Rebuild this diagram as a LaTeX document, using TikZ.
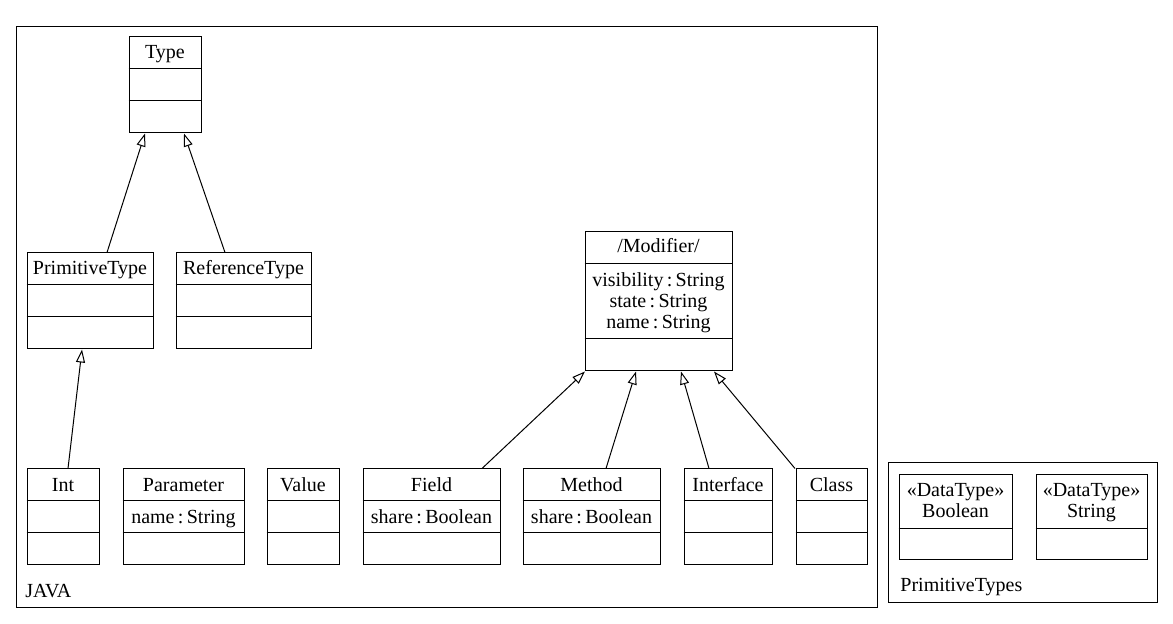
\documentclass[tikz,border=0pt]{standalone}
\usepackage{fontspec}
\setmainfont{Liberation Serif}
\usetikzlibrary{fit,arrows.meta}

\tikzset{
    box/.style={draw, line width=0.5pt, inner sep=0pt},
    inherit/.style={line width=0.5pt, -{Triangle[open,length=6.5pt,width=4.5pt]}},
    lbl/.style={inner sep=0pt, anchor=base, font=\fontsize{10}{10.5}\selectfont}
}

\begin{document}
\begin{tikzpicture}[x=0.5pt,y=-0.5pt]
    \useasboundingbox (0,0) rectangle (1173,624);
    %\draw[very thin,color=gray] (0,0) grid[step=50] (1173,624);

    % packages
    \node[box, fit={(16,27) (877,608)}] (java) {};
    \node[lbl, anchor=base west] (javaname) at (25,598) {JAVA};
    \node[box, fit={(888,463) (1157,603)}] (primtypes) {};
    \node[lbl, anchor=base west] (primtypesname) at (900,592) {PrimitiveTypes};

    % upper classes
    \foreach \n/\l/\t/\r/\b/\s in {type/129/37/201/133/Type, prim/27/253/153/349/PrimitiveType, ref/176/253/311/349/ReferenceType} {
        \node[box, fit={(\l,\t) (\r,\b)}] (\n) {};
        \draw[line width=0.5pt] (\n.west |- 0,\t+32) -- (\n.east |- 0,\t+32);
        \draw[line width=0.5pt] (\n.west |- 0,\t+64) -- (\n.east |- 0,\t+64);
        \node[lbl] (\n name) at (\n.center |- 0,\t+22) {\s};
    }

    \node[box, fit={(585,232) (732,371)}] (mod) {};
    \draw[line width=0.5pt] (mod.west |- 0,264) -- (mod.east |- 0,264);
    \draw[line width=0.5pt] (mod.west |- 0,339) -- (mod.east |- 0,339);
    \node[lbl] (modname) at (mod.center |- 0,253) {/Modifier/};
    \node[lbl] (modvis) at (mod.center |- 0,287) {visibility\,:\,String};
    \node[lbl] (modstate) at (mod.center |- 0,308) {state\,:\,String};
    \node[lbl] (modattr) at (mod.center |- 0,329) {name\,:\,String};

    % bottom row
    \foreach \n/\l/\r/\s in {int/27/99/Int, param/123/244/Parameter, value/267/339/Value, field/363/500/Field, method/523/660/Method, iface/684/772/Interface, class/796/867/Class} {
        \node[box, fit={(\l,469) (\r,565)}] (\n) {};
        \draw[line width=0.5pt] (\n.west |- 0,501) -- (\n.east |- 0,501);
        \draw[line width=0.5pt] (\n.west |- 0,533) -- (\n.east |- 0,533);
        \node[lbl] (\n name) at (\n.center |- 0,492) {\s};
    }
    \node[lbl] (paramattr) at (param.center |- 0,524) {name\,:\,String};
    \node[lbl] (fieldattr) at (field.center |- 0,524) {share\,:\,Boolean};
    \node[lbl] (methodattr) at (method.center |- 0,524) {share\,:\,Boolean};

    % data types
    \foreach \n/\l/\r/\s in {bool/899/1012/Boolean, str/1036/1147/String} {
        \node[box, fit={(\l,475) (\r,560)}] (\n) {};
        \draw[line width=0.5pt] (\n.west |- 0,529) -- (\n.east |- 0,529);
        \node[lbl] (\n stereo) at (\n.center |- 0,497) {«DataType»};
        \node[lbl] (\n name) at (\n.center |- 0,518) {\s};
    }

    % generalizations
    \draw[inherit] (prim.north -| 107,0) -- (type.south -| 145,0);
    \draw[inherit] (ref.north -| 225,0) -- (type.south -| 184,0);
    \draw[inherit] (int.north -| 68,0) -- (prim.south -| 82,0);
    \draw[inherit] (field.north -| 482,0) -- (mod.south -| 585,0);
    \draw[inherit] (method.north -| 606,0) -- (mod.south -| 636,0);
    \draw[inherit] (iface.north -| 709,0) -- (mod.south -| 681,0);
    \draw[inherit] (class.north -| 795,0) -- (mod.south -| 714,0);

\end{tikzpicture}
\end{document}
